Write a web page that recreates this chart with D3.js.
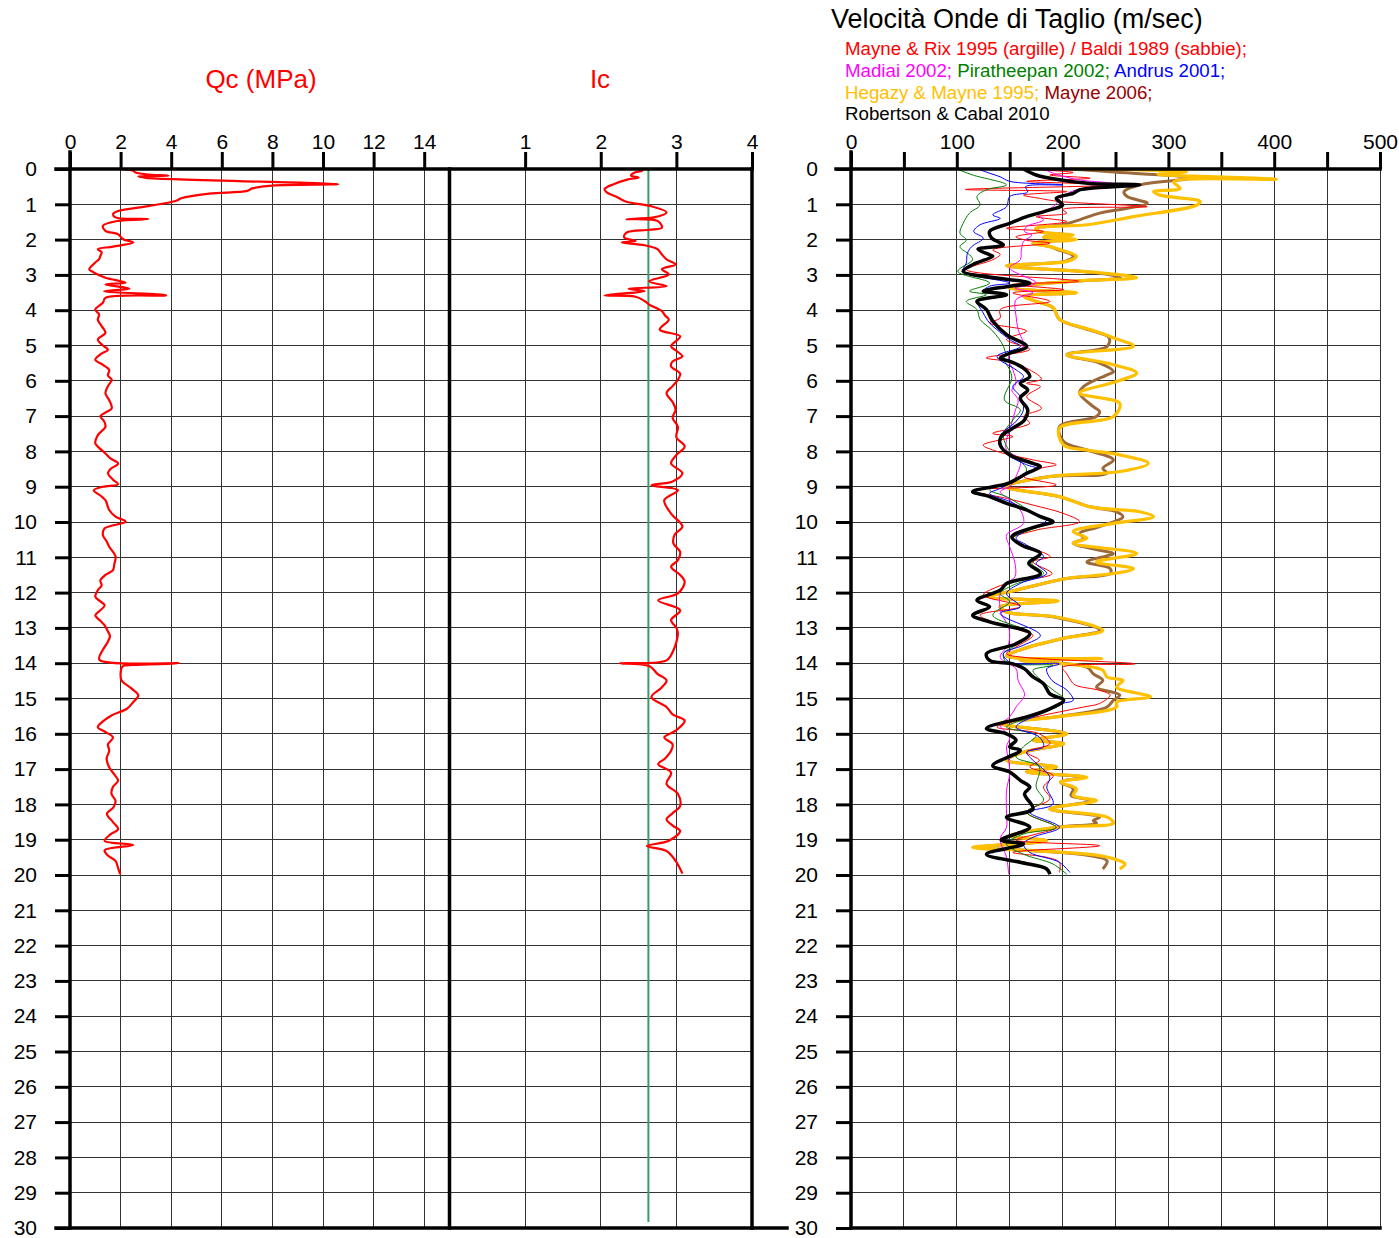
<!DOCTYPE html>
<html><head><meta charset="utf-8">
<script src="https://cdn.jsdelivr.net/npm/d3@7"></script>
<style>
html,body{margin:0;padding:0;background:#fff;}
svg{display:block;font-family:"Liberation Sans",Arial,sans-serif;}
</style></head>
<body>
<svg id="chart" width="1399" height="1238"></svg>
<script>
// ---------- tick labels ----------
const depthTicks = d3.range(0, 31);
const qcTicks = [0, 2, 4, 6, 8, 10, 12, 14];
const icTicks = [1, 2, 3, 4];
const vsTicks = [0, 50, 100, 150, 200, 250, 300, 350, 400, 450, 500];
const icThreshold = 2.63;

// ---------- Qc (MPa) [depth, value] ----------
const qcProfile = [[0,2.0],[0.05,2.5],[0.1,2.6],[0.15,3.0],[0.19,3.9],[0.21,2.7],[0.25,3.0],[0.43,10.6],[0.47,8.0],[0.55,7.2],[0.62,7.0],[0.7,5.5],[0.83,4.4],[0.9,4.2],[1.05,3.1],[1.19,1.9],[1.28,1.7],[1.37,1.8],[1.42,3.1],[1.47,1.9],[1.61,1.3],[1.75,1.4],[1.85,1.9],[1.99,2.1],[2.08,2.5],[2.2,1.7],[2.27,1.1],[2.36,1.25],[2.46,1.2],[2.55,1.15],[2.65,1.0],[2.84,0.76],[2.93,0.94],[3.08,1.4],[3.22,2.2],[3.27,1.4],[3.39,2.35],[3.46,1.35],[3.58,3.8],[3.65,1.4],[3.79,1.3],[3.98,1.0],[4.12,1.15],[4.27,1.1],[4.45,1.25],[4.64,1.4],[4.83,1.1],[5.0,1.3],[5.12,1.5],[5.25,1.2],[5.4,1.0],[5.55,1.3],[5.69,1.55],[5.85,1.5],[5.97,1.65],[6.15,1.5],[6.35,1.4],[6.55,1.55],[6.78,1.65],[6.9,1.4],[7.0,1.2],[7.15,1.35],[7.3,1.4],[7.54,1.1],[7.77,1.0],[7.9,1.15],[8.06,1.4],[8.2,1.6],[8.34,1.9],[8.5,1.6],[8.62,1.5],[8.8,1.7],[8.93,1.9],[9.0,1.3],[9.1,0.94],[9.25,1.2],[9.38,1.4],[9.66,1.55],[9.85,1.8],[9.99,2.2],[10.18,1.37],[10.37,1.3],[10.55,1.45],[10.7,1.55],[10.98,1.8],[11.2,1.75],[11.36,1.7],[11.5,1.4],[11.65,1.2],[11.8,1.25],[11.93,1.1],[12.12,1.0],[12.25,1.2],[12.36,1.37],[12.5,1.2],[12.64,1.0],[12.8,1.2],[12.93,1.37],[13.1,1.5],[13.24,1.58],[13.45,1.45],[13.62,1.3],[13.9,1.16],[14.0,4.3],[14.05,2.5],[14.09,2.08],[14.3,2.0],[14.49,2.04],[14.7,2.4],[14.91,2.7],[15.1,2.5],[15.29,2.25],[15.48,1.64],[15.65,1.3],[15.81,1.1],[15.95,1.4],[16.1,1.7],[16.3,1.5],[16.48,1.55],[16.7,1.45],[16.95,1.55],[17.15,1.75],[17.33,1.9],[17.5,1.7],[17.7,1.64],[17.9,1.8],[18.08,1.72],[18.27,1.46],[18.5,1.7],[18.7,1.9],[18.85,1.6],[19.03,1.37],[19.15,2.5],[19.3,1.37],[19.45,1.5],[19.6,1.8],[19.8,1.9],[19.98,1.98]];

// ---------- Ic [depth, value] ----------
const icProfile = [[0,2.49],[0.05,2.55],[0.1,2.45],[0.19,2.4],[0.24,2.5],[0.3,2.35],[0.43,2.17],[0.57,2.05],[0.66,2.08],[0.8,2.22],[0.93,2.34],[1.04,2.64],[1.23,2.87],[1.37,2.7],[1.42,2.34],[1.47,2.75],[1.66,2.81],[1.72,2.64],[1.8,2.34],[1.94,2.31],[2.04,2.46],[2.08,2.28],[2.16,2.58],[2.27,2.75],[2.4,2.8],[2.56,2.87],[2.7,2.99],[2.84,2.81],[2.99,2.9],[3.18,2.64],[3.32,2.87],[3.39,2.37],[3.46,2.58],[3.58,2.05],[3.62,2.46],[3.74,2.58],[3.84,2.64],[4.03,2.81],[4.15,2.85],[4.27,2.9],[4.55,2.78],[4.74,3.05],[5.02,2.93],[5.15,3.0],[5.31,3.08],[5.45,2.95],[5.59,2.93],[5.8,3.05],[5.97,3.02],[6.15,2.95],[6.35,2.87],[6.6,2.95],[6.82,2.99],[7.05,2.95],[7.3,3.02],[7.6,3.0],[7.86,3.11],[8.1,3.0],[8.34,2.93],[8.62,3.08],[8.85,2.95],[8.96,2.67],[9.1,3.02],[9.38,2.84],[9.76,2.93],[10.13,3.08],[10.35,2.98],[10.6,2.96],[10.85,3.05],[11.08,3.02],[11.27,2.93],[11.5,3.05],[11.7,3.11],[12.02,3.02],[12.22,2.76],[12.5,3.05],[12.78,2.93],[13.0,3.0],[13.16,3.02],[13.4,3.0],[13.64,2.96],[13.92,2.87],[14.0,2.25],[14.08,2.64],[14.3,2.75],[14.49,2.87],[14.7,2.8],[14.96,2.67],[15.24,2.87],[15.45,2.95],[15.63,3.11],[15.91,2.99],[16.1,2.84],[16.3,2.95],[16.48,2.93],[16.7,2.85],[16.86,2.76],[17.1,2.93],[17.42,2.87],[17.7,3.02],[18.04,3.05],[18.25,2.95],[18.42,2.87],[18.6,2.95],[18.75,3.05],[19.03,2.9],[19.18,2.61],[19.32,2.87],[19.6,2.99],[19.96,3.08]];

// ---------- Vs (m/sec) [depth, value] ----------
const vsHegazyMayne = [[0,207],[0.03,280],[0.08,317],[0.15,290],[0.29,402],[0.36,305],[0.55,311],[0.64,286],[0.74,292],[0.92,330],[1.02,327],[1.35,267],[1.58,223],[1.68,175],[1.77,178],[1.87,210],[1.93,182],[2.0,213],[2.1,172],[2.2,188],[2.28,197],[2.47,213],[2.61,205],[2.74,147],[2.94,235],[3.08,270],[3.18,210],[3.37,150],[3.51,213],[3.6,163],[3.75,175],[3.93,191],[4.26,197],[4.55,226],[4.78,248],[5.02,267],[5.26,204],[5.5,242],[5.78,270],[6.02,251],[6.35,216],[6.64,254],[7.01,248],[7.34,197],[7.82,201],[7.96,223],[8.1,254],[8.34,281],[8.57,254],[8.71,188],[9.0,147],[9.28,197],[9.57,226],[9.71,273],[9.85,286],[10.04,248],[10.27,210],[10.46,223],[10.6,210],[10.89,270],[11.13,232],[11.32,267],[11.46,248],[11.6,204],[11.93,156],[12.12,131],[12.24,196],[12.4,141],[12.55,147],[12.69,194],[13.07,238],[13.3,200],[13.59,163],[13.8,147],[13.87,237],[13.92,160],[14.06,216],[14.2,238],[14.39,242],[14.49,257],[14.68,251],[14.95,283],[15.1,251],[15.24,251],[15.52,194],[15.71,141],[16.0,204],[16.18,172],[16.28,201],[16.52,163],[16.75,147],[16.94,194],[17.08,166],[17.23,223],[17.37,198],[17.56,213],[17.75,210],[17.89,232],[18.13,188],[18.36,242],[18.53,248],[18.65,194],[18.89,150],[19.03,185],[19.22,115],[19.31,172],[19.45,235],[19.6,254],[19.69,259],[19.83,254]];
const vsMayne2006 = [[0,207],[0.08,245],[0.26,320],[0.45,273],[0.64,258],[0.78,261],[0.97,280],[1.11,261],[1.25,235],[1.44,216],[1.58,200],[1.68,175],[1.77,178],[1.87,205],[1.93,182],[2.0,205],[2.1,172],[2.2,188],[2.28,195],[2.47,210],[2.61,203],[2.74,147],[2.94,232],[3.08,255],[3.18,210],[3.37,150],[3.51,210],[3.6,163],[3.75,175],[3.93,191],[4.26,197],[4.55,224],[4.78,244],[5.03,242],[5.26,204],[5.5,235],[5.74,248],[5.83,242],[6.16,220],[6.35,216],[6.73,229],[6.87,235],[7.01,232],[7.3,197],[7.72,201],[7.96,223],[8.24,248],[8.48,238],[8.62,242],[8.71,188],[9.0,147],[9.28,197],[9.57,226],[9.71,251],[9.85,257],[10.13,235],[10.32,216],[10.46,220],[10.6,210],[10.8,235],[10.89,248],[11.13,223],[11.32,245],[11.46,245],[11.6,204],[11.93,156],[12.12,131],[12.24,192],[12.4,141],[12.55,147],[12.69,192],[13.07,235],[13.3,200],[13.59,163],[13.8,147],[13.87,230],[13.92,160],[14.11,223],[14.3,229],[14.49,238],[14.68,232],[14.9,254],[15.05,248],[15.24,242],[15.52,194],[15.71,141],[16.0,204],[16.18,172],[16.28,201],[16.52,163],[16.75,147],[16.94,194],[17.08,166],[17.23,220],[17.37,198],[17.56,210],[17.75,208],[17.89,228],[18.13,188],[18.36,235],[18.46,229],[18.53,232],[18.65,194],[18.89,150],[19.03,185],[19.22,118],[19.31,172],[19.45,225],[19.6,242],[19.83,238]];
const vsMayneRix = [[0,163],[0.1,210],[0.17,188],[0.26,226],[0.35,166],[0.45,248],[0.58,108],[0.64,204],[0.74,163],[0.83,178],[0.92,197],[1.07,280],[1.15,200],[1.25,204],[1.35,175],[1.49,204],[1.68,147],[1.77,182],[1.92,156],[2.02,166],[2.1,188],[2.29,134],[2.42,141],[2.57,134],[2.85,109],[3.18,215],[3.27,153],[3.42,201],[3.51,153],[3.75,188],[3.98,141],[4.22,141],[4.36,131],[4.59,166],[4.83,147],[5.11,169],[5.35,128],[5.45,147],[5.69,169],[5.95,180],[6.07,166],[6.16,179],[6.45,166],[6.78,180],[7.01,163],[7.2,169],[7.49,134],[7.58,153],[7.82,125],[8.0,138],[8.24,172],[8.38,194],[8.48,179],[8.71,163],[8.95,194],[9.11,115],[9.33,147],[9.52,172],[9.75,200],[9.99,216],[10.23,175],[10.46,153],[10.65,163],[10.98,188],[11.13,172],[11.46,190],[11.7,153],[11.84,138],[12.07,125],[12.39,160],[12.64,122],[13.07,160],[13.21,172],[13.54,156],[13.73,147],[14.02,268],[14.12,200],[14.3,204],[14.5,208],[14.62,212],[14.77,235],[14.9,245],[15.14,235],[15.24,220],[15.38,197],[15.52,175],[15.81,138],[16.0,178],[16.28,188],[16.52,166],[16.75,178],[16.94,169],[17.18,191],[17.51,182],[17.84,188],[18.22,166],[18.65,194],[18.84,175],[19.01,156],[19.17,235],[19.36,153],[19.5,185],[19.64,197],[19.93,197]];
const vsMadiai = [[0,182],[0.15,194],[0.31,216],[0.42,248],[0.59,213],[0.78,200],[1.07,191],[1.3,177],[1.44,182],[1.63,166],[1.77,164],[1.87,171],[2.06,163],[2.29,161],[2.57,160],[2.8,150],[3.23,175],[3.37,155],[3.51,172],[3.7,156],[4.17,156],[4.55,158],[5.03,163],[5.22,150],[5.41,149],[5.69,153],[6.07,156],[6.26,152],[6.54,158],[6.87,155],[7.39,150],[7.67,147],[7.96,147],[8.24,160],[8.71,156],[9.0,150],[9.14,141],[9.38,150],[9.66,160],[10.04,163],[10.37,147],[10.7,150],[11.17,155],[11.55,155],[11.74,147],[12.03,141],[12.59,142],[12.97,149],[13.45,149],[13.83,141],[14.16,156],[14.49,158],[14.9,164],[15.24,156],[15.52,150],[15.76,141],[16.09,150],[16.37,147],[16.75,149],[17.13,150],[17.6,147],[18.27,147],[18.65,147],[18.98,141],[19.5,147],[19.98,149]];
const vsPiratheepan = [[0,100],[0.17,115],[0.45,147],[0.59,128],[0.78,119],[1.02,122],[1.25,112],[1.54,106],[1.82,103],[2.01,109],[2.2,103],[2.43,112],[2.57,115],[2.9,101],[3.23,131],[3.46,112],[3.56,128],[3.75,109],[3.98,119],[4.26,122],[4.59,134],[5.02,144],[5.3,146],[5.36,144],[5.69,150],[5.93,152],[6.54,145],[6.82,160],[7.11,153],[7.53,144],[8.0,150],[8.52,166],[8.81,156],[9.09,131],[9.28,147],[9.57,163],[9.85,179],[9.99,191],[10.23,169],[10.46,153],[10.65,163],[10.94,179],[11.17,171],[11.46,182],[11.79,153],[12.03,141],[12.26,150],[12.64,134],[13.16,169],[13.49,156],[13.73,144],[13.97,147],[14.06,191],[14.2,172],[14.49,180],[14.76,191],[15.05,202],[15.33,188],[15.52,172],[15.81,147],[16.04,175],[16.37,163],[16.66,156],[16.94,178],[17.51,175],[17.89,182],[18.22,166],[18.65,194],[18.84,163],[19.12,147],[19.41,163],[19.69,191],[19.98,204]];
const vsAndrus = [[0,120],[0.12,131],[0.22,141],[0.35,150],[0.45,200],[0.5,165],[0.65,167],[0.78,150],[1.07,147],[1.3,134],[1.4,141],[1.58,122],[1.77,116],[1.96,125],[2.2,114],[2.39,110],[2.66,109],[2.9,106],[3.23,150],[3.32,131],[3.46,125],[3.56,147],[3.75,120],[4.08,125],[4.36,131],[4.83,150],[5.03,160],[5.31,138],[5.69,156],[5.88,163],[6.16,153],[6.45,160],[6.82,163],[7.15,156],[7.58,141],[8.05,147],[8.38,166],[8.48,175],[8.71,163],[9.05,141],[9.19,131],[9.42,150],[9.66,166],[9.94,185],[10.23,166],[10.46,156],[10.65,166],[10.98,182],[11.17,175],[11.46,185],[11.74,160],[12.03,147],[12.4,160],[12.59,141],[13.21,179],[13.49,163],[13.73,144],[13.97,150],[14.02,197],[14.16,185],[14.49,190],[14.76,204],[15.05,210],[15.14,200],[15.43,179],[15.81,156],[16.09,178],[16.37,182],[16.52,166],[16.75,172],[17.23,188],[17.51,185],[17.99,191],[18.22,169],[18.65,197],[18.93,172],[19.12,163],[19.36,169],[19.64,197],[19.93,207]];
const vsRobertsonCabal = [[0,163],[0.17,175],[0.26,188],[0.41,226],[0.45,273],[0.59,216],[0.69,210],[0.83,194],[1.02,200],[1.16,188],[1.35,166],[1.54,150],[1.77,131],[1.96,133],[2.15,144],[2.27,120],[2.43,131],[2.47,134],[2.71,115],[2.9,106],[3.23,169],[3.32,150],[3.46,125],[3.56,147],[3.75,119],[3.98,128],[4.31,134],[4.69,147],[5.03,166],[5.22,150],[5.36,141],[5.45,150],[5.64,163],[5.88,169],[6.07,160],[6.26,167],[6.49,160],[6.82,167],[7.11,164],[7.34,153],[7.58,142],[7.82,141],[8.1,150],[8.34,172],[8.43,179],[8.62,166],[8.9,149],[9.14,115],[9.28,131],[9.47,147],[9.66,166],[9.85,179],[9.99,191],[10.13,175],[10.42,152],[10.65,161],[10.89,179],[11.17,168],[11.46,179],[11.74,147],[11.93,141],[12.22,119],[12.4,131],[12.64,115],[12.83,131],[13.16,169],[13.45,156],[13.73,128],[13.92,131],[14.02,153],[14.16,164],[14.39,172],[14.58,182],[14.87,188],[15.05,201],[15.33,185],[15.52,166],[15.85,128],[16.0,147],[16.18,156],[16.37,150],[16.47,160],[16.9,134],[17.08,150],[17.32,160],[17.51,169],[17.7,164],[18.13,172],[18.36,147],[18.65,169],[19.01,142],[19.12,163],[19.41,128],[19.64,160],[19.83,185],[19.98,188]];

const vsSeries = [
  {data: vsMayne2006, color: "#9C6A3A", width: 3},
  {data: vsHegazyMayne, color: "#FFC000", width: 3.2},
  {data: vsMayneRix, color: "#FF0000", width: 1},
  {data: vsMadiai, color: "#FF00FF", width: 1},
  {data: vsPiratheepan, color: "#008000", width: 1},
  {data: vsAndrus, color: "#0000FF", width: 1},
  {data: vsRobertsonCabal, color: "#000000", width: 3.5}
];

// ---------- scales ----------
const svg = d3.select("#chart");
const y = d3.scaleLinear().domain([0, 30]).range([169, 1228]);
const xQc = d3.scaleLinear().domain([0, 15]).range([70, 449.5]);
const xIc = d3.scaleLinear().domain([0, 4]).range([449.5, 752]);
const xVs = d3.scaleLinear().domain([0, 500]).range([851, 1380]);

const FONT = '"Liberation Sans", Arial, sans-serif';

// ---------- grids ----------
const grid = svg.append("g").attr("stroke", "#333").attr("stroke-width", 1).attr("shape-rendering", "crispEdges");
depthTicks.filter(d => d > 0 && d < 30).forEach(d => {
  grid.append("line").attr("x1", xQc(0)).attr("x2", xIc(4)).attr("y1", y(d)).attr("y2", y(d));
  grid.append("line").attr("x1", xVs(0)).attr("x2", xVs(500)).attr("y1", y(d)).attr("y2", y(d));
});
qcTicks.filter(v => v > 0).forEach(v => grid.append("line").attr("x1", xQc(v)).attr("x2", xQc(v)).attr("y1", y(0)).attr("y2", y(30)));
icTicks.filter(v => v < 4).forEach(v => grid.append("line").attr("x1", xIc(v)).attr("x2", xIc(v)).attr("y1", y(0)).attr("y2", y(30)));
vsTicks.filter(v => v > 0).forEach(v => grid.append("line").attr("x1", xVs(v)).attr("x2", xVs(v)).attr("y1", y(0)).attr("y2", y(30)));

// ---------- data lines ----------
const curve = d3.curveCatmullRom.alpha(0.5);
const qcLine = d3.line().x(p => xQc(p[1])).y(p => y(p[0])).curve(curve);
const icLine = d3.line().x(p => xIc(p[1])).y(p => y(p[0])).curve(curve);
const vsLine = d3.line().x(p => xVs(p[1])).y(p => y(p[0])).curve(curve);

svg.append("line").attr("x1", xIc(icThreshold)).attr("x2", xIc(icThreshold))
  .attr("y1", y(0)).attr("y2", y(29.83)).attr("stroke", "#3C9A6A").attr("stroke-width", 2);

svg.append("path").datum(qcProfile).attr("d", qcLine).attr("fill", "none")
  .attr("stroke", "#FF0000").attr("stroke-width", 2.2).attr("stroke-linejoin", "round");
svg.append("path").datum(icProfile).attr("d", icLine).attr("fill", "none")
  .attr("stroke", "#FF0000").attr("stroke-width", 2.2).attr("stroke-linejoin", "round");

vsSeries.forEach(s => {
  svg.append("path").datum(s.data).attr("d", vsLine).attr("fill", "none")
    .attr("stroke", s.color).attr("stroke-width", s.width).attr("stroke-linejoin", "round");
});

// ---------- axes ----------
function styleAxis(g, size) {
  g.selectAll("path.domain").remove();
  g.selectAll(".tick line").attr("stroke", "#000").attr("stroke-width", 3);
  g.selectAll(".tick text").attr("fill", "#000").style("font-family", FONT).style("font-size", size + "px");
}

const leftAxis = svg.append("g").attr("transform", `translate(${xQc(0)},0)`)
  .call(d3.axisLeft(y).tickValues(depthTicks).tickSize(15).tickPadding(18).tickFormat(d3.format("d")));
styleAxis(leftAxis, 21);
const vsLeftAxis = svg.append("g").attr("transform", `translate(${xVs(0)},0)`)
  .call(d3.axisLeft(y).tickValues(depthTicks).tickSize(15).tickPadding(18).tickFormat(d3.format("d")));
styleAxis(vsLeftAxis, 21);

const qcAxis = svg.append("g").attr("transform", `translate(0,${y(0)})`)
  .call(d3.axisTop(xQc).tickValues(qcTicks).tickSize(17).tickPadding(3).tickFormat(d3.format("d")));
styleAxis(qcAxis, 21);
const icAxis = svg.append("g").attr("transform", `translate(0,${y(0)})`)
  .call(d3.axisTop(xIc).tickValues(icTicks).tickSize(17).tickPadding(3).tickFormat(d3.format("d")));
styleAxis(icAxis, 21);
const vsAxis = svg.append("g").attr("transform", `translate(0,${y(0)})`)
  .call(d3.axisTop(xVs).tickValues(vsTicks).tickSize(17).tickPadding(3).tickFormat(v => v % 100 === 0 ? v : ""));
styleAxis(vsAxis, 21);

// ---------- frames ----------
const frame = svg.append("g").attr("stroke", "#000").attr("stroke-width", 3.5).attr("stroke-linecap", "square");
frame.append("line").attr("x1", 56).attr("x2", xIc(4)).attr("y1", y(0)).attr("y2", y(0));
frame.append("line").attr("x1", 56).attr("x2", 787).attr("y1", y(30)).attr("y2", y(30));
frame.append("line").attr("x1", xQc(0)).attr("x2", xQc(0)).attr("y1", y(0) - 17).attr("y2", y(30));
frame.append("line").attr("x1", xQc(15)).attr("x2", xQc(15)).attr("y1", y(0)).attr("y2", y(30));
frame.append("line").attr("x1", xIc(4)).attr("x2", xIc(4)).attr("y1", y(0)).attr("y2", y(30));
frame.append("line").attr("x1", xVs(0) - 15).attr("x2", xVs(500)).attr("y1", y(0)).attr("y2", y(0));
frame.append("line").attr("x1", xVs(0)).attr("x2", xVs(500)).attr("y1", y(30)).attr("y2", y(30));
frame.append("line").attr("x1", xVs(0)).attr("x2", xVs(0)).attr("y1", y(0) - 17).attr("y2", y(30));

// ---------- titles ----------
svg.append("text").attr("x", 261).attr("y", 88).attr("text-anchor", "middle")
  .style("font-family", FONT).style("font-size", "26px").attr("fill", "#FF0000").text("Qc (MPa)");
svg.append("text").attr("x", 600).attr("y", 88).attr("text-anchor", "middle")
  .style("font-family", FONT).style("font-size", "26px").attr("fill", "#FF0000").text("Ic");
svg.append("text").attr("x", 831).attr("y", 28)
  .style("font-family", FONT).style("font-size", "27px").attr("fill", "#000").text("Velocità Onde di Taglio (m/sec)");

const legendLines = [
  [["Mayne & Rix 1995 (argille) / Baldi 1989 (sabbie);", "#FF0000"]],
  [["Madiai 2002;", "#FF00FF"], [" Piratheepan 2002;", "#008000"], [" Andrus 2001;", "#0000FF"]],
  [["Hegazy & Mayne 1995;", "#FFC000"], [" Mayne 2006;", "#990000"]],
  [["Robertson & Cabal 2010", "#000000"]]
];
legendLines.forEach((parts, i) => {
  const t = svg.append("text").attr("x", 845).attr("y", 55 + i * 21.8)
    .style("font-family", FONT).style("font-size", "18.7px").attr("xml:space", "preserve");
  parts.forEach(p => t.append("tspan").attr("fill", p[1]).text(p[0]));
});
</script>
</body></html>
